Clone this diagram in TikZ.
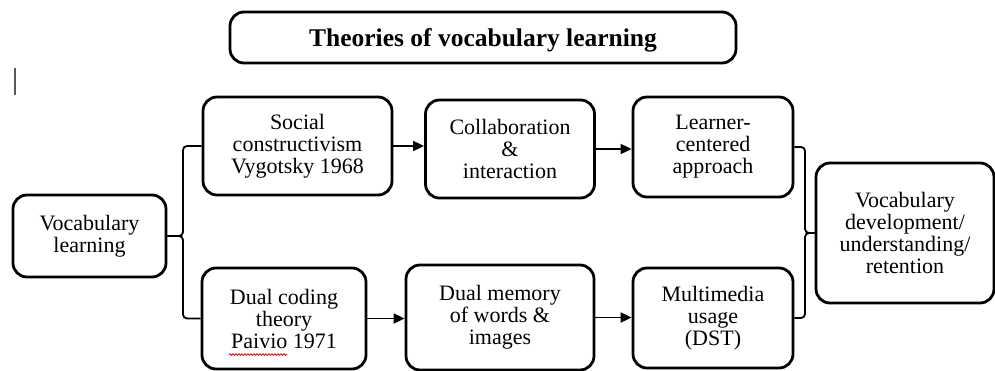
\documentclass[tikz,border=0pt]{standalone}
\usepackage{fontspec}
\setmainfont{Liberation Serif}
\usetikzlibrary{arrows.meta,decorations.pathmorphing}
\tikzset{
  box/.style={draw=black, line width=2.8pt, rounded corners=14pt, align=center,
    inner sep=0pt, font=\fontsize{22}{22}\selectfont,
    execute at begin node={\rule{0pt}{21.5pt}}},
  titlebox/.style={box, font=\fontsize{25.5}{28}\selectfont\bfseries,
    execute at begin node={\rule{0pt}{23.5pt}}},
  link/.style={draw=black, line width=1.8pt},
  arr/.style={link, -{Triangle[length=11pt,width=10pt]}},
}
\begin{document}
\begin{tikzpicture}[x=1pt,y=-1pt]
\useasboundingbox (0,0) rectangle (995,371);
% title
\node[titlebox, minimum width=506pt, minimum height=51pt] (title) at (483,37.5) {Theories of vocabulary learning};
% text cursor
\draw[gray!70!black, line width=1.2pt] (15,68) -- (15,95);
% boxes
\node[box, minimum width=153pt, minimum height=82pt] (vl) at (89.5,236) {Vocabulary\\learning};
\node[box, minimum width=189pt, minimum height=98pt] (soc) at (297.5,146) {Social\\constructivism\\Vygotsky 1968};
\node[box, minimum width=169pt, minimum height=98pt] (col) at (510,149) {Collaboration\\\&\\interaction};
\node[box, minimum width=160pt, minimum height=100pt] (lrn) at (713,147) {Learner-\\centered\\approach};
\node[box, minimum width=164pt, minimum height=101pt] (dct) at (284,318.5) {Dual coding\\theory\\Paivio 1971};
\node[box, minimum width=188pt, minimum height=105pt] (dm) at (500,317.5) {Dual memory\\of words \&\\images};
\node[box, minimum width=160pt, minimum height=100pt] (mm) at (713,318) {Multimedia\\usage\\(DST)};
\node[box, minimum width=178pt, minimum height=140pt] (vd) at (905,233) {Vocabulary\\development/\\understanding/\\retention};
% spell-check squiggle under Paivio
\draw[red!85!black, line width=0.7pt, decorate, decoration={snake, amplitude=0.9pt, segment length=3pt}]
  (229,354.5) -- (287,354.5);
% left bracket
\draw[link, rounded corners=4pt] (vl.east) -| (183,200) |- (soc.west);
\draw[link, rounded corners=4pt] (vl.east) -| (183,280) |- (dct.west);
% right bracket
\draw[link, rounded corners=4pt] (lrn.east) -| (805,200) |- (vd.west);
\draw[link, rounded corners=4pt] (mm.east) -| (805,280) |- (vd.west);
% arrows
\draw[arr] (soc.east) -- (soc.east -| col.west);
\draw[arr] (col.east) -- (col.east -| lrn.west);
\draw[arr] (dct.east) -- (dct.east -| dm.west);
\draw[arr] (dm.east) -- (dm.east -| mm.west);
\end{tikzpicture}
\end{document}
